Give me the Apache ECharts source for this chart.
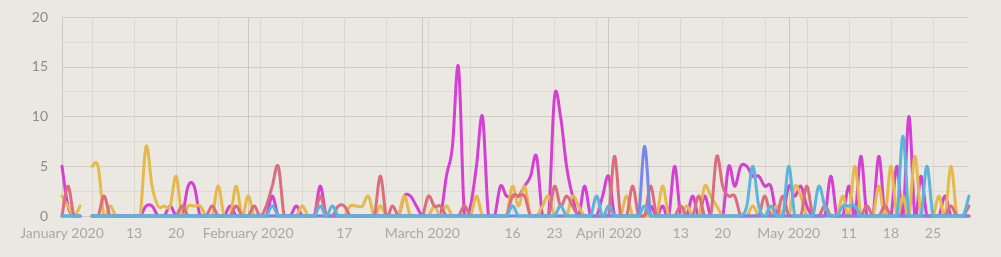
<!DOCTYPE html>
<html><head><meta charset="utf-8">
<script src="https://cdn.jsdelivr.net/npm/echarts@6/dist/echarts.min.js"></script>
<style>html,body{margin:0;padding:0;background:#ebe8e1;}#c{width:1001px;height:257px;}</style>
</head><body><div id="c"></div>
<script>
// Daily dates: 2020-01-01 .. 2020-05-31 (152 days)
const startYear = 2020, startMonth = 0, startDay = 1, dayCount = 152;
const dates = [];
for (let i = 0; i < dayCount; i++) dates.push(new Date(startYear, startMonth, startDay + i).getTime());

const monthNames = ['January','February','March','April','May','June','July','August','September','October','November','December'];
const monthTickDates = [[2020,0,1],[2020,1,1],[2020,2,1],[2020,3,1],[2020,4,1]];
const weekTickDates = [[2020,0,6],[2020,0,13],[2020,0,20],[2020,0,27],[2020,1,3],[2020,1,10],[2020,1,17],[2020,1,24],
  [2020,2,2],[2020,2,9],[2020,2,16],[2020,2,23],[2020,2,30],[2020,3,6],[2020,3,13],[2020,3,20],[2020,3,27],
  [2020,4,4],[2020,4,11],[2020,4,18],[2020,4,25]];
const labelDates = [[2020,0,1],[2020,0,13],[2020,0,20],[2020,1,1],[2020,1,17],[2020,2,1],[2020,2,16],[2020,2,23],
  [2020,3,1],[2020,3,13],[2020,3,20],[2020,4,1],[2020,4,11],[2020,4,18],[2020,4,25]];
const yTicks = [0, 5, 10, 15, 20];

const magenta = [
 5,1,0,0,null,0,0,0,0,0,
 0,0,0,0,1,1,0,0,1,0,
 0,3,3,0,0,0,0,0,1,0,
 0,0,0,0,0,2,0,0,0,1,
 0,0,0,3,0,0,0,0,0,0,
 0,0,0,0,0,0,0,2,2,1,
 0,0,0,0,4,7,15,0,1,5,
 10,0,0,3,2,2,2,3,4,6,
 0,0,12,10,5,2,0,3,0,0,
 2,4,0,0,0,0,0,0,1,0,
 1,0,5,0,0,2,0,2,0,0,
 0,5,3,5,5,4,4,3,3,0,
 0,3,2,3,1,0,0,0,4,0,
 0,3,0,6,0,0,6,0,0,5,
 0,10,0,4,0,0,0,2,0,0,
 0,0];
const pink = [
 0,3,0,0,null,0,0,2,0,0,
 0,0,0,0,0,0,0,0,0,0,
 1,0,0,0,0,1,0,0,0,1,
 0,0,1,0,1,3,5,0,0,0,
 0,0,0,2,0,0,1,1,0,0,
 0,0,0,4,0,1,0,0,0,0,
 0,2,1,1,0,0,0,1,0,0,
 0,0,0,0,0,2,2,2,0,0,
 0,0,3,1,2,1,0,0,0,0,
 0,0,6,0,0,3,0,0,3,0,
 0,0,0,1,0,0,2,0,0,6,
 3,2,2,0,0,0,0,2,0,0,
 2,0,0,0,3,0,0,1,0,0,
 0,0,0,0,1,0,0,1,0,0,
 0,0,0,0,0,0,0,0,1,0,
 0,1];
const yellow = [
 2,1,0,1,null,5,5,0,1,0,
 0,0,0,0,7,3,1,1,1,4,
 0,1,1,1,0,0,3,0,0,3,
 0,2,0,0,0,0,0,0,0,0,
 1,0,0,0,0,0,0,0,1,1,
 1,2,0,1,0,0,0,2,0,0,
 0,0,1,0,1,0,0,0,0,2,
 0,0,0,0,0,3,1,3,0,0,
 1,2,0,0,0,2,1,0,0,0,
 0,0,0,0,2,0,0,0,0,0,
 3,0,0,0,1,0,0,3,2,1,
 0,0,0,0,0,1,0,0,0,1,
 0,0,3,2,0,0,0,1,0,0,
 2,0,5,0,0,0,3,0,5,0,
 2,0,6,0,0,0,2,0,5,0,
 0,0];
const blue = [
 0,0,0,0,null,0,0,0,0,0,
 0,0,0,0,0,0,0,0,0,0,
 0,0,0,0,0,0,0,0,0,0,
 0,0,0,0,0,1,0,0,0,0,
 0,0,0,1,0,1,0,0,0,0,
 0,0,0,0,0,0,0,0,0,0,
 0,0,0,0,0,0,0,0,0,0,
 0,0,0,0,0,1,0,0,0,0,
 0,0,0,1,0,0,0,0,0,2,
 0,1,0,0,0,0,0,1,0,0,
 0,0,0,0,0,0,0,0,0,0,
 0,0,0,0,1,5,1,0,1,0,
 0,5,0,0,0,0,3,1,0,0,
 1,1,1,0,0,0,0,0,0,0,
 8,0,0,0,5,0,0,0,0,0,
 0,2];
const periwinkle = [
 0,0,0,0,null,0,0,0,0,0,
 0,0,0,0,0,0,0,0,0,0,
 0,0,0,0,0,0,0,0,0,0,
 0,0,0,0,0,0,0,0,0,0,
 0,0,0,0,0,0,0,0,0,0,
 0,0,0,0,0,0,0,0,0,0,
 0,0,0,0,0,0,0,0,0,0,
 0,0,0,0,0,0,0,0,0,0,
 0,0,0,0,0,0,0,0,0,0,
 0,0,0,0,0,0,0,7,0,0,
 0,0,0,0,0,0,0,0,0,0,
 0,0,0,0,0,0,0,0,0,0,
 0,0,0,0,0,0,0,0,0,0,
 0,0,0,0,0,0,0,0,0,0,
 0,0,0,0,0,0,0,0,0,0,
 0,0];

const toTs = a => new Date(a[0], a[1], a[2]).getTime();
const pair = arr => arr.map((v, i) => [dates[i], v]);
const minT = dates[0], maxT = dates[dates.length - 1];

// Catmull-Rom curve through the points (positions come from the axes via api.coord), clipped at the baseline
function makeCurveSeries(name, arr, color, z) {
  return {
    name, type: 'custom', coordinateSystem: 'cartesian2d', xAxisIndex: 0, yAxisIndex: 0, z,
    data: pair(arr), encode: { x: 0, y: 1 }, silent: true,
    renderItem: (params, api) => {
      if (params.dataIndex !== 0) return null;
      const segs = [];
      let cur = [];
      arr.forEach((v, i) => {
        if (v === null || v === undefined) { if (cur.length) segs.push(cur); cur = []; }
        else cur.push(api.coord([dates[i], v]));
      });
      if (cur.length) segs.push(cur);
      const baseY = api.coord([dates[0], 0])[1];
      const children = [];
      const steps = 12;
      segs.forEach(P => {
        if (P.length < 2) return;
        const pts = [[P[0][0], Math.min(P[0][1], baseY)]];
        for (let i = 0; i < P.length - 1; i++) {
          const p0 = P[i - 1] || P[i], p1 = P[i], p2 = P[i + 1], p3 = P[i + 2] || P[i + 1];
          const c1x = p1[0] + (p2[0] - p0[0]) / 6, c1y = p1[1] + (p2[1] - p0[1]) / 6;
          const c2x = p2[0] - (p3[0] - p1[0]) / 6, c2y = p2[1] - (p3[1] - p1[1]) / 6;
          for (let s = 1; s <= steps; s++) {
            const t = s / steps, u = 1 - t;
            const x = u*u*u*p1[0] + 3*u*u*t*c1x + 3*u*t*t*c2x + t*t*t*p2[0];
            const y = u*u*u*p1[1] + 3*u*u*t*c1y + 3*u*t*t*c2y + t*t*t*p2[1];
            pts.push([x, Math.min(y, baseY)]);
          }
        }
        children.push({
          type: 'polyline', shape: { points: pts },
          style: { stroke: color, lineWidth: 3, fill: null, lineJoin: 'round', lineCap: 'round' }
        });
      });
      return { type: 'group', children };
    }
  };
}

const chart = echarts.init(document.getElementById('c'), null, { renderer: 'canvas' });
chart.setOption({
  animation: false,
  backgroundColor: '#ebe8e1',
  grid: { left: 62, right: 32, top: 17, bottom: 41 },
  xAxis: [{
    type: 'value', min: minT, max: maxT, scale: true,
    axisLine: { show: false },
    axisTick: { show: false, customValues: weekTickDates.map(toTs) },
    axisLabel: {
      customValues: labelDates.map(toTs), color: '#a8a8a8', fontSize: 14, fontFamily: 'Lato', margin: 10,
      hideOverlap: false, showMinLabel: true,
      formatter: v => { const d = new Date(v); return d.getDate() === 1 ? monthNames[d.getMonth()] + ' ' + d.getFullYear() : String(d.getDate()); }
    },
    splitLine: { show: true, lineStyle: { color: '#dcd8d1', width: 1 } }
  }, {
    type: 'value', min: minT, max: maxT, scale: true, position: 'bottom',
    axisLine: { show: false },
    axisTick: { show: false, customValues: monthTickDates.map(toTs) },
    axisLabel: { show: false },
    splitLine: { show: true, lineStyle: { color: '#ccc8c1', width: 1 } }
  }],
  yAxis: {
    type: 'value', min: yTicks[0], max: yTicks[yTicks.length - 1], interval: 5,
    axisLine: { show: false }, axisTick: { show: false },
    axisLabel: { color: '#8c8c8c', fontSize: 14, fontFamily: 'Lato', margin: 14 },
    splitLine: { lineStyle: { color: '#d2cec7', width: 1 } },
    minorTick: { show: false, splitNumber: 2 },
    minorSplitLine: { show: true, lineStyle: { color: '#dfdbd4', width: 1 } }
  },
  series: [
    makeCurveSeries('magenta', magenta, '#d440d4', 2),
    makeCurveSeries('yellow', yellow, '#e6b94b', 3),
    makeCurveSeries('pink', pink, '#da6e7d', 4),
    makeCurveSeries('periwinkle', periwinkle, '#7887eb', 5),
    makeCurveSeries('blue', blue, '#5ab4dc', 6)
  ]
});
</script></body></html>
